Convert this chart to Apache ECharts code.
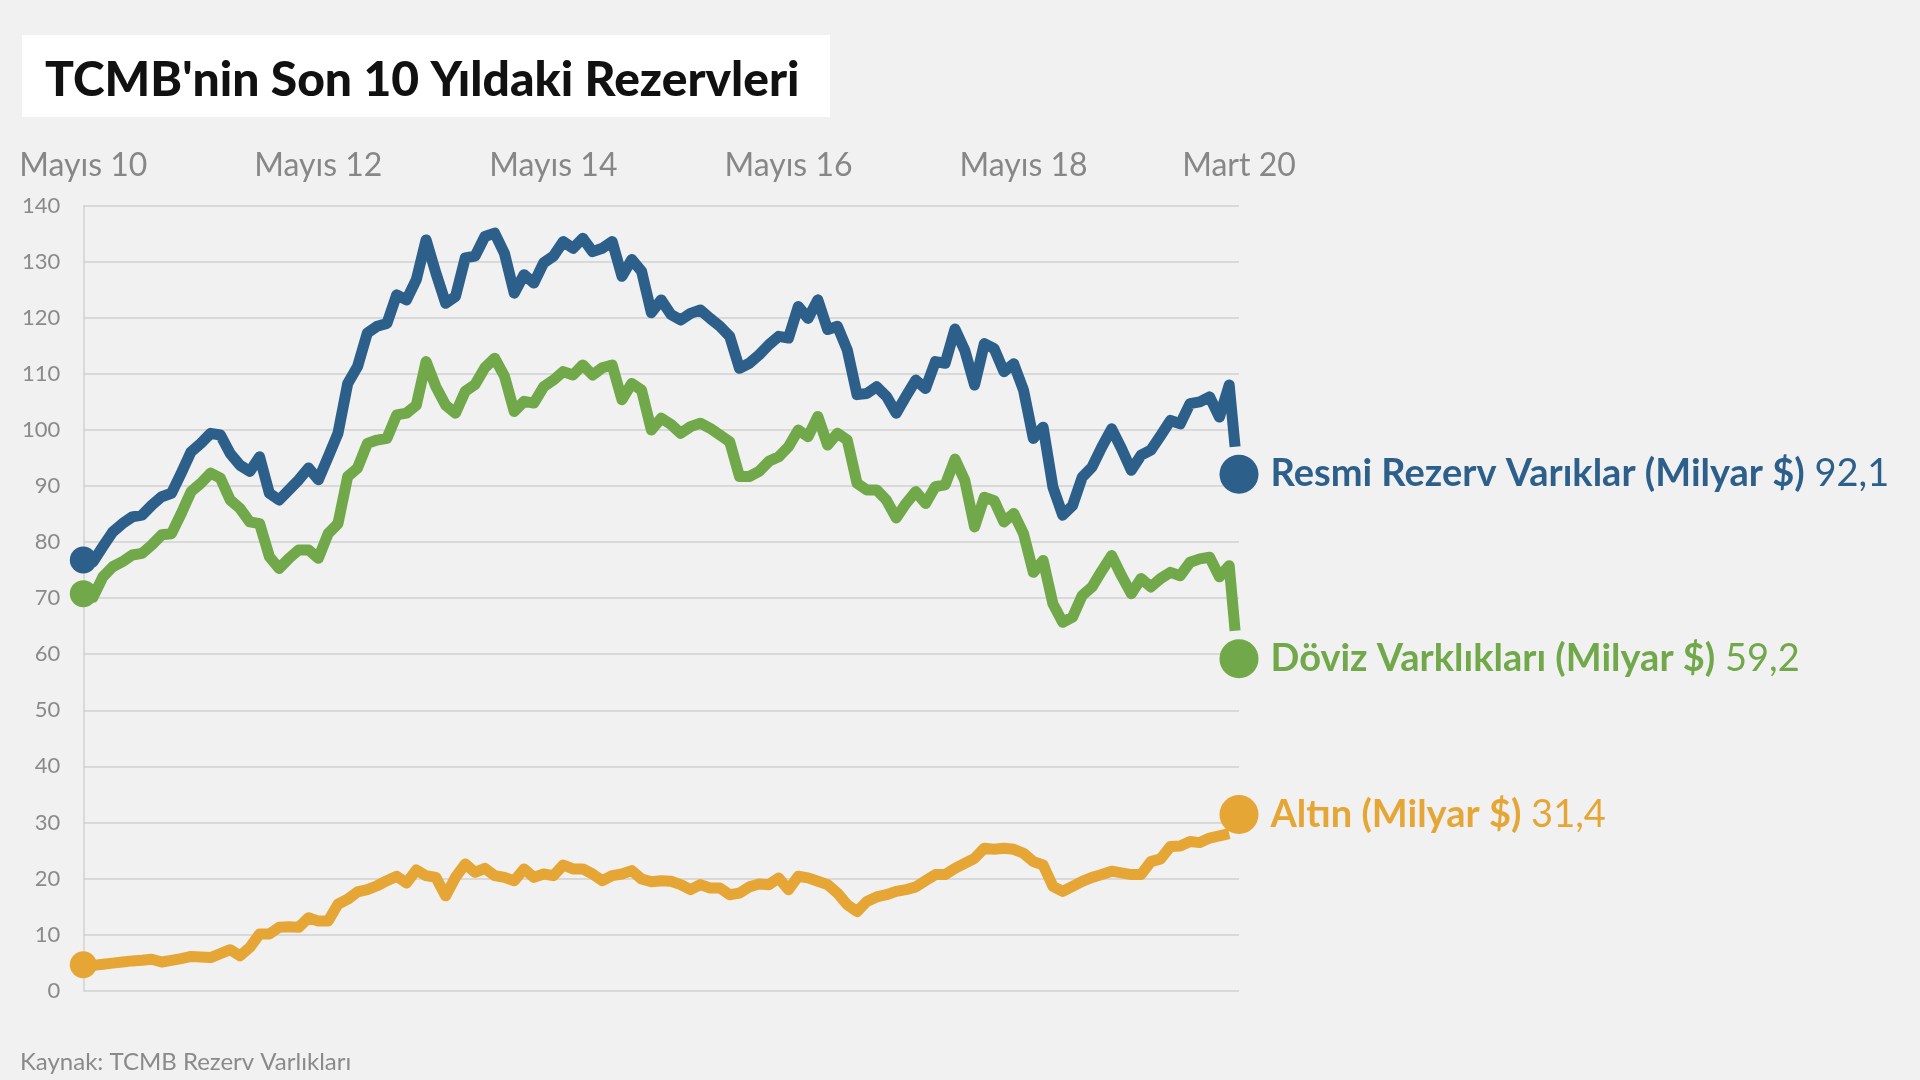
<!DOCTYPE html>
<html><head><meta charset="utf-8">
<script src="https://cdn.jsdelivr.net/npm/echarts@6/dist/echarts.min.js"></script>
<style>html,body{margin:0;padding:0;background:#f1f1f1;} #c{width:1920px;height:1080px;}</style>
</head><body><div id="c"></div><script>
// ---- data (month index 0 = Mayıs 2010, 118 = Mart 2020) ----
const xTickMonths = [0, 24, 48, 72, 96, 118];
const xTickLabels = ['Mayıs 10', 'Mayıs 12', 'Mayıs 14', 'Mayıs 16', 'Mayıs 18', 'Mart 20'];

const resmi = [
  76.8, 76.5, 79.2, 81.8, 83.3, 84.5, 84.8, 86.6, 88.1, 88.7,
  92.3, 96.1, 97.6, 99.4, 99.1, 95.8, 93.7, 92.6, 95.2, 88.7,
  87.5, 89.3, 91.1, 93.2, 91.1, 95.2, 99.4, 108.3, 111.3, 117.3,
  118.5, 119.0, 124.1, 123.2, 126.8, 133.9, 128.0, 122.6, 123.8, 130.7,
  131.0, 134.5, 135.1, 131.5, 124.4, 127.7, 126.2, 129.8, 131.0, 133.6,
  132.4, 134.2, 131.8, 132.4, 133.6, 127.4, 130.4, 128.3, 120.9, 123.2,
  120.6, 119.6, 120.8, 121.4, 119.9, 118.5, 116.7, 111.0, 111.9, 113.4,
  115.2, 116.7, 116.4, 122.0, 119.9, 123.2, 117.9, 118.5, 114.3, 106.3,
  106.5, 107.7, 106.0, 103.0, 106.0, 108.9, 107.4, 112.2, 111.9, 118.0,
  114.2, 108.0, 115.4, 114.5, 110.4, 111.8, 107.1, 98.5, 100.5, 89.8,
  84.8, 86.5, 91.6, 93.4, 97.0, 100.2, 96.7, 92.8, 95.5, 96.4,
  99.0, 101.7, 101.1, 104.7, 105.0, 105.9, 102.3, 108.0
];
const doviz = [
  70.8, 70.2, 73.8, 75.6, 76.5, 77.7, 78.0, 79.5, 81.3, 81.5,
  85.1, 89.0, 90.5, 92.3, 91.4, 87.5, 86.0, 83.6, 83.3, 77.4,
  75.3, 77.1, 78.6, 78.6, 77.1, 81.5, 83.3, 91.7, 93.2, 97.6,
  98.2, 98.5, 102.7, 103.0, 104.4, 112.2, 107.7, 104.4, 103.0, 106.9,
  108.1, 111.1, 112.8, 109.6, 103.3, 105.1, 104.8, 107.7, 108.9, 110.4,
  109.8, 111.6, 109.8, 111.1, 111.6, 105.4, 108.3, 107.1, 100.0, 102.1,
  101.0, 99.4, 100.6, 101.2, 100.3, 99.1, 97.9, 91.7, 91.7, 92.6,
  94.4, 95.2, 97.0, 100.0, 98.8, 102.4, 97.3, 99.4, 98.2, 90.5,
  89.3, 89.3, 87.5, 84.3, 86.9, 89.0, 86.9, 89.9, 90.2, 94.8,
  91.0, 82.7, 88.0, 87.4, 83.6, 85.1, 81.5, 74.6, 76.7, 69.0,
  65.7, 66.6, 70.5, 72.0, 74.9, 77.6, 74.0, 70.8, 73.5, 72.0,
  73.5, 74.6, 74.0, 76.4, 77.0, 77.3, 73.8, 75.8
];
const altin = [
  4.6, 4.5, 4.7, 4.9, 5.1, 5.3, 5.4, 5.6, 5.1, 5.4,
  5.7, 6.1, 6.0, 5.9, 6.6, 7.3, 6.2, 7.7, 10.1, 10.1,
  11.3, 11.4, 11.3, 13.0, 12.4, 12.4, 15.4, 16.3, 17.6, 18.0,
  18.7, 19.6, 20.4, 19.2, 21.5, 20.5, 20.2, 16.9, 20.2, 22.6,
  21.1, 21.8, 20.5, 20.2, 19.6, 21.7, 20.2, 20.8, 20.5, 22.4,
  21.7, 21.7, 20.8, 19.6, 20.5, 20.8, 21.4, 19.9, 19.4, 19.6,
  19.5, 18.9, 18.0, 18.9, 18.3, 18.3, 17.1, 17.4, 18.5, 19.0,
  18.9, 20.1, 18.0, 20.4, 20.1, 19.5, 18.9, 17.4, 15.3, 14.1,
  15.9, 16.7, 17.1, 17.7, 18.0, 18.5, 19.6, 20.7, 20.7, 21.8,
  22.7, 23.6, 25.4, 25.2, 25.4, 25.2, 24.5, 23.0, 22.4, 18.6,
  17.7, 18.6, 19.5, 20.2, 20.7, 21.3, 21.0, 20.7, 20.7, 23.0,
  23.5, 25.7, 25.8, 26.6, 26.4, 27.2, 27.6, 28.0
];
// last partial-month points of each line (month, value)
const resmiTail = [117.6, 97.0];
const dovizTail = [117.6, 64.2];
const altinTail = null;

const lastMonth = 118;
const seriesNames = ['Resmi Rezerv Varıklar (Milyar $)', 'Döviz Varklıkları (Milyar $)', 'Altın (Milyar $)'];
const lastValues = [92.1, 59.2, 31.4];
const lastLabels = ['92,1', '59,2', '31,4'];
const colors = ['#2d5f8b', '#70a84a', '#e5a636'];

const titleText = "TCMB'nin Son 10 Yıldaki Rezervleri";
const sourceText = 'Kaynak: TCMB Rezerv Varlıkları';

// ---- chart ----
const FONT = 'Lato, "Noto Sans", sans-serif';
function toLine(arr, tail) {
  const d = arr.map((v, i) => [i, v]);
  if (tail) d.push(tail);
  return d;
}
const lines = [toLine(resmi, resmiTail), toLine(doviz, dovizTail), toLine(altin, altinTail)];
const firsts = [resmi[0], doviz[0], altin[0]];

const chart = echarts.init(document.getElementById('c'), null, { renderer: 'canvas' });
const series = [];
lines.forEach((d, k) => {
  series.push({
    type: 'line', data: d, showSymbol: false, symbol: 'none', z: 5 - k,
    lineStyle: { color: colors[k], width: 11, join: 'round', cap: 'butt' },
    itemStyle: { color: colors[k] }, silent: true, animation: false
  });
});
lines.forEach((d, k) => {
  series.push({
    type: 'scatter', z: 10, animation: false, silent: true,
    data: [[0, firsts[k]], [lastMonth, lastValues[k]]],
    symbolSize: (val, p) => p.dataIndex === 0 ? 27 : 39,
    itemStyle: { color: colors[k], opacity: 1 },
    label: {
      show: true, position: 'right', distance: 12,
      formatter: p => p.dataIndex === 0 ? '' : '{b|' + seriesNames[k] + '}{n| ' + lastLabels[k] + '}',
      rich: {
        b: { fontFamily: FONT, fontWeight: 'bold', fontSize: 38, color: colors[k] },
        n: { fontFamily: FONT, fontWeight: 'normal', fontSize: 38, color: colors[k] }
      }
    }
  });
});

chart.setOption({
  backgroundColor: '#f1f1f1',
  animation: false,
  grid: { left: 83.3, right: 681, top: 205.7, bottom: 89.4, containLabel: false },
  xAxis: {
    type: 'value', position: 'top', min: 0, max: lastMonth,
    axisLine: { show: false }, axisTick: { show: false }, splitLine: { show: false },
    axisLabel: {
      customValues: xTickMonths, margin: 24.5,
      formatter: v => xTickLabels[xTickMonths.indexOf(v)] || '',
      fontFamily: FONT, fontSize: 32, color: '#878787'
    }
  },
  yAxis: {
    type: 'value', min: 0, max: 140, interval: 10,
    axisLine: { show: true, lineStyle: { color: '#d2d2d2', width: 1.5 } },
    axisTick: { show: false },
    splitLine: { lineStyle: { color: '#d9d9d9', width: 2 } },
    axisLabel: { fontFamily: FONT, fontSize: 22, color: '#8a8a8a', margin: 23 }
  },
  title: [{
    text: sourceText, left: 15, top: 1045,
    textStyle: { fontFamily: FONT, fontWeight: 'normal', fontSize: 24, color: '#8a8a8a' }
  }],
  graphic: [
    { type: 'rect', left: 22, top: 35, shape: { width: 808, height: 82 }, style: { fill: '#ffffff' }, z: 0 },
    { type: 'text', left: 45, top: 57, style: { text: titleText, fontFamily: FONT, fontWeight: 900, fontSize: 48, fill: '#111111' }, z: 1 }
  ],
  series: series
});
</script></body></html>
